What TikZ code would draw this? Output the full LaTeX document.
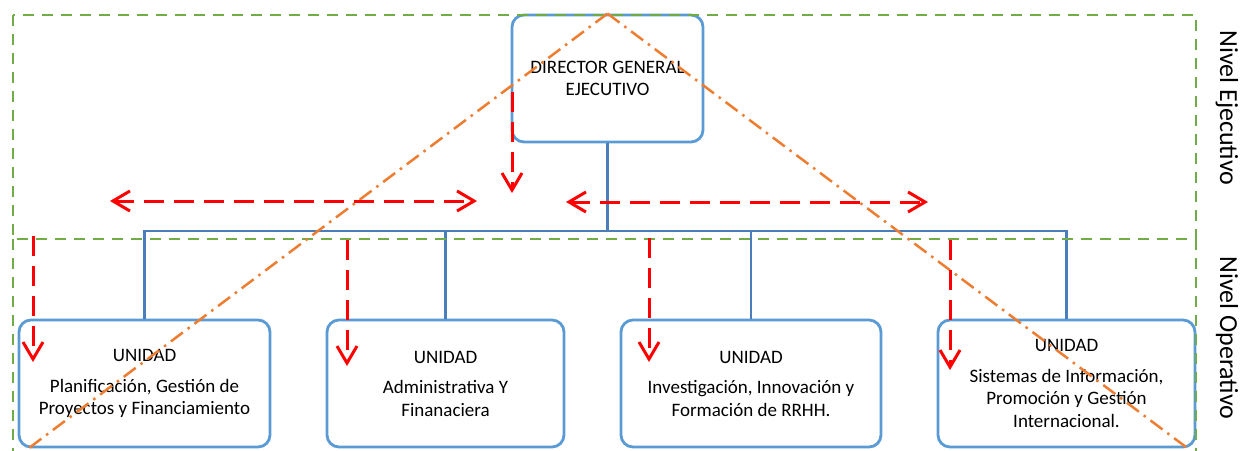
\documentclass[tikz,border=0pt]{standalone}
\usepackage{fontspec}
\setmainfont{Carlito}
\usetikzlibrary{arrows.meta}
\definecolor{verde}{HTML}{70AD47}
\definecolor{azul}{HTML}{5B9BD5}
\definecolor{azulosc}{HTML}{4A7EBB}
\definecolor{naranja}{HTML}{ED7D31}
\begin{document}
\begin{tikzpicture}[x=1pt,y=-1pt,
    caja/.style={draw=azul, line width=2.8pt, rounded corners=12pt, fill=white,
        align=center, inner sep=0pt, font=\fontsize{19}{22.5}\selectfont},
    unidad/.style={caja, minimum height=127pt},
    rama/.style={draw=azulosc, line width=2.8pt},
    nivel/.style={draw=verde, line width=2.8pt, dash pattern=on 11pt off 8pt},
    diag/.style={draw=naranja, line width=2.5pt, dash pattern=on 15pt off 6pt on 2.5pt off 6pt},
    flecha/.style={draw=red, line width=3pt, dash pattern=on 20pt off 10pt,
        -{Straight Barb[length=17pt,width=20pt]}},
    doble/.style={flecha, {Straight Barb[length=17pt,width=20pt]}-{Straight Barb[length=17pt,width=20pt]}},
    rotulo/.style={rotate=-90, font=\fontsize{26}{30}\selectfont}]

    \useasboundingbox (0,0) rectangle (1242,450);

    % director
    \node[caja, minimum width=191pt, minimum height=127pt] (dir) at (607.5,78.5)
        {DIRECTOR GENERAL\\EJECUTIVO};

    % unidades
    \node[unidad, minimum width=251pt] (u1) at (144.5,383.5)
        {UNIDAD\\[8pt]Planificación, Gestión de\\Proyectos y Financiamiento};
    \node[unidad, minimum width=237pt] (u2) at (445.5,383.5)
        {UNIDAD\\[8pt]Administrativa Y\\Finanaciera};
    \node[unidad, minimum width=260pt] (u3) at (751,383.5)
        {UNIDAD\\[8pt]Investigación, Innovación y\\Formación de RRHH.};
    \node[unidad, minimum width=257pt] (u4) at (1066.5,383.5)
        {UNIDAD\\[8pt]Sistemas de Información,\\Promoción y Gestión\\Internacional.};

    % ramas del organigrama
    \coordinate (bus) at (607.5,231);
    \foreach \u in {u1,u2,u3,u4}
        \draw[rama] (dir.south) -- (bus) -| (\u.north);

    % niveles
    \draw[nivel] (13,15) rectangle (1196,239);
    \draw[nivel] (13,239) -- (13,455);
    \draw[nivel] (1196,239) -- (1196,455);
    \node[rotulo] (ejec) at (1227,108) {Nivel Ejecutivo};
    \node[rotulo] (oper) at (1227,338) {Nivel Operativo};

    % diagonales
    \coordinate (pieI) at (29,448);
    \coordinate (pieD) at (1190,450);
    \draw[diag] (dir.north) -- (pieI);
    \draw[diag] (dir.north) -- (pieD);

    % flechas verticales
    \coordinate (a0) at (512,92);   \coordinate (a1) at (512,193);
    \coordinate (b0) at (33,236);   \coordinate (b1) at (33,362);
    \coordinate (c0) at (347,240);  \coordinate (c1) at (347,366);
    \coordinate (d0) at (649,238);  \coordinate (d1) at (649,362);
    \coordinate (e0) at (950,240);  \coordinate (e1) at (950,370);
    \foreach \p in {a,b,c,d,e}
        \draw[flecha] (\p0) -- (\p1);

    % flechas horizontales
    \coordinate (f0) at (110,201);  \coordinate (f1) at (477,201);
    \coordinate (g0) at (566,202);  \coordinate (g1) at (928,202);
    \draw[doble] (f0) -- (f1);
    \draw[doble] (g0) -- (g1);

\end{tikzpicture}
\end{document}
